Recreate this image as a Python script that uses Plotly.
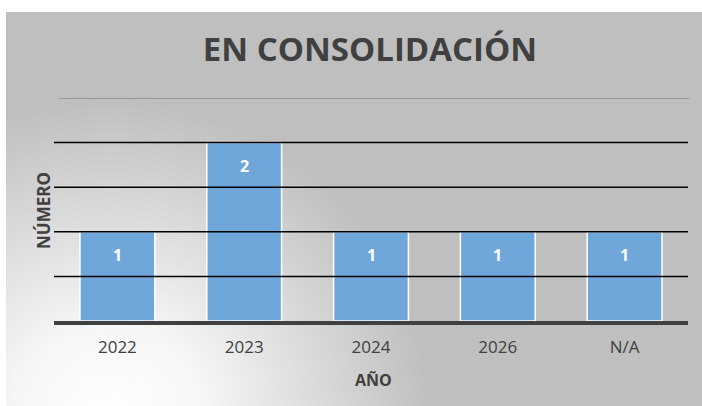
import base64
import plotly.graph_objects as go

# ---- data ----
categories = ["2022", "2023", "2024", "2026", "N/A"]
values = [1, 2, 1, 1, 1]
grid_values = [0.5, 1, 1.5, 2]
title_text = "EN CONSOLIDACIÓN"
x_title = "AÑO"
y_title = "NÚMERO"

W, H = 702, 406
L, R, T, B = 54, 14, 98, 85
pw, ph = W - L - R, H - T - B

# chart background rect (image coords)
bx0, by0 = 6, 12
bw, bh = W - bx0, H - by0
svg = f'''<svg xmlns="http://www.w3.org/2000/svg" width="{bw}" height="{bh}" viewBox="0 0 {bw} {bh}" preserveAspectRatio="none">
<defs><radialGradient id="g" gradientUnits="userSpaceOnUse" cx="{110-bx0}" cy="{420-by0}" r="320">
<stop offset="0" stop-color="#FFFFFF"/><stop offset="0.3" stop-color="#F6F6F6"/><stop offset="1" stop-color="#BFBFBF"/>
</radialGradient></defs>
<rect x="0" y="0" width="{bw}" height="{bh}" fill="url(#g)"/></svg>'''
src = "data:image/svg+xml;base64," + base64.b64encode(svg.encode()).decode()

fig = go.Figure()
fig.add_trace(go.Bar(
    x=categories, y=values,
    marker=dict(color="#6FA7DB", line=dict(color="#FFFFFF", width=1.5)),
    hoverinfo="skip",
))

font = "Open Sans, Lato, sans-serif"

# gridlines drawn above the bars, as in the reference
for gv in grid_values:
    fig.add_shape(type="line", xref="paper", yref="y", x0=0, x1=1, y0=gv, y1=gv,
                  line=dict(color="#000000", width=1.5), layer="above")

for i, v in enumerate(values):
    fig.add_annotation(x=i, y=v, text=f"<b>{v}</b>", showarrow=False,
                       yshift=-23, font=dict(family=font, size=16, color="#FFFFFF"))

fig.add_layout_image(dict(
    source=src, xref="paper", yref="paper",
    x=(bx0 - L) / pw, y=(H - B - by0) / ph,
    sizex=bw / pw, sizey=bh / ph, sizing="stretch",
    xanchor="left", yanchor="top", layer="below",
))

# top grey border line
fig.add_shape(type="line", xref="paper", yref="y", x0=5 / pw, x1=1.0 + 1 / pw,
              y0=2.5, y1=2.5, line=dict(color="#8C8C8C", width=1.5), layer="below")

fig.add_annotation(xref="paper", yref="paper", x=0, y=(H - B - 211) / ph,
                   xanchor="center", yanchor="middle",
                   xshift=-11, text=f"<b>{y_title}</b>", textangle=-90, showarrow=False,
                   font=dict(family=font, size=17, color="#404040"))
fig.add_annotation(xref="paper", yref="paper", x=(373 - L) / pw, y=-(380 - (H - B)) / ph,
                   xanchor="center", yanchor="middle",
                   text=f"<b>{x_title}</b>", showarrow=False,
                   font=dict(family=font, size=16, color="#404040"))

fig.update_layout(
    width=W, height=H,
    margin=dict(l=L, r=R, t=T, b=B),
    paper_bgcolor="#FFFFFF", plot_bgcolor="rgba(0,0,0,0)",
    bargap=0.41, showlegend=False,
    title=dict(text=f"<b>{title_text}</b>", x=370 / W, xanchor="center",
               y=1 - 49 / H, yanchor="middle", yref="container",
               font=dict(family=font, size=33, color="#404040")),
    xaxis=dict(type="category", categoryorder="array", categoryarray=categories,
               range=[-0.5, len(categories) - 0.5],
               showline=True, linecolor="#404040", linewidth=4, layer="above traces",
               ticks="outside", ticklen=8, tickcolor="rgba(0,0,0,0)",
               tickfont=dict(family=font, size=17, color="#404040"),
               showgrid=False),
    yaxis=dict(range=[0, 2.5], showticklabels=False, showgrid=False,
               zeroline=False, showline=False),
)

fig.write_html("out.html")
